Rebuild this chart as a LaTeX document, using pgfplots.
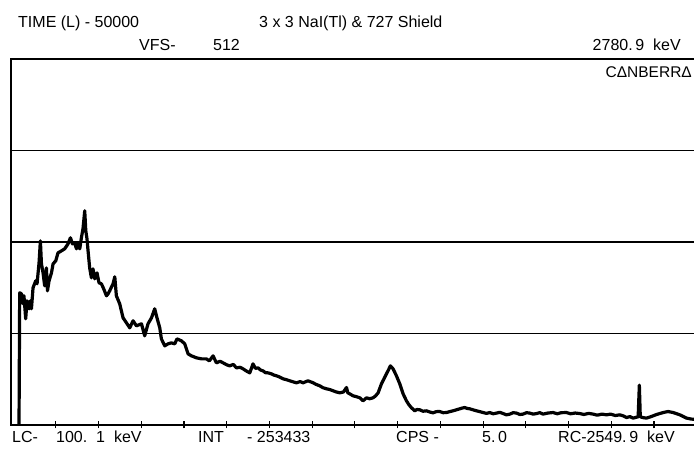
\documentclass[border=0pt]{standalone}
\usepackage{pgfplots}
\pgfplotsset{compat=1.18}
\usepackage{pgfplotstable}
\usepackage{fontspec}
\setmainfont{Liberation Sans}
\pgfplotstableread{
ch cnt
4.5 0
5.0 184.7
6.3 183.3
7.5 169.3
8.2 180.5
9.5 148.3
10.5 173.5
12.0 162.3
13.0 173.5
13.8 162.3
15.0 191.7
17.0 201.5
18.0 197.3
19.5 226.6
20.5 257.4
21.3 225.2
22.5 212.6
23.7 194.5
25.0 219.6
25.8 187.5
27.0 201.5
28.8 212.6
30.0 225.2
32.0 229.4
33.7 240.6
36.3 243.4
38.7 246.2
41.2 253.2
43.0 261.6
44.5 253.2
46.2 254.6
47.5 246.2
48.7 253.2
50.0 246.2
51.2 261.6
52.4 274.2
53.7 299.4
54.5 271.4
55.4 260.2
56.2 243.4
57.4 219.6
58.7 205.7
59.9 218.2
61.2 204.3
62.9 212.6
64.4 198.7
66.2 197.3
67.9 190.3
70.0 180.5
71.2 183.3
72.4 187.5
74.9 197.3
76.2 207.1
77.4 180.5
79.9 169.3
82.4 149.7
84.9 142.7
87.4 135.7
89.9 145.5
92.4 138.5
96.2 141.3
98.6 124.5
101.1 141.3
103.7 149.7
106.1 162.3
107.8 149.7
109.9 135.7
111.1 120.3
113.6 110.5
116.1 113.3
118.6 114.7
121.1 113.3
122.8 120.3
126.1 117.5
128.6 113.3
131.1 99.3
133.6 96.5
137.4 93.7
141.1 92.3
144.8 92.3
147.0 89.5
149.8 96.5
152.3 86.7
155.0 89.0
157.3 86.7
160.0 84.0
162.3 82.5
165.0 84.5
167.3 79.7
170.0 80.5
172.3 78.3
175.0 75.0
177.3 72.7
179.7 85.3
181.5 79.0
183.5 79.7
185.5 76.5
187.2 75.5
189.0 73.0
191.0 72.7
193.5 71.3
195.5 69.5
197.3 68.6
199.5 67.0
202.2 64.4
205.0 63.0
207.2 61.6
210.0 60.0
212.2 58.8
215.0 60.5
217.2 58.8
220.9 61.6
224.7 58.8
227.0 56.5
229.7 54.6
232.0 52.0
234.7 50.4
237.0 49.5
239.7 47.6
242.0 46.0
244.7 44.8
247.5 46.0
249.7 52.2
250.7 44.8
252.5 43.0
254.6 40.6
257.0 39.5
259.7 37.8
262.1 33.6
264.7 37.8
267.0 36.5
269.6 37.8
271.5 40.5
273.4 44.8
275.9 57.4
277.7 64.0
279.6 71.3
281.2 77.0
282.6 82.5
284.6 78.3
287.1 68.6
289.6 57.4
292.1 43.4
294.6 33.6
296.5 28.0
298.4 23.8
300.8 19.6
302.5 21.5
304.6 21.0
307.0 19.0
309.6 19.6
312.0 18.0
314.5 16.8
317.0 18.5
319.6 18.6
322.0 17.0
324.6 17.2
327.0 18.5
329.5 19.6
332.0 21.0
334.5 22.4
336.5 23.5
338.3 24.2
340.0 23.0
342.0 22.4
344.5 21.0
347.0 19.6
349.5 18.5
352.0 17.2
354.5 16.0
357.0 17.2
359.5 15.5
362.0 16.4
364.5 17.5
367.0 15.8
369.5 14.0
372.0 15.0
374.5 17.0
377.0 16.4
379.5 14.5
381.9 15.0
384.5 17.0
387.0 16.4
389.5 15.0
392.0 15.8
394.5 17.0
396.9 15.0
400.5 16.5
404.4 17.2
407.5 15.5
410.5 17.0
414.4 17.2
417.5 15.5
421.0 16.5
424.4 15.8
427.5 14.5
431.0 16.0
434.4 15.0
437.5 13.5
441.0 15.0
444.4 14.0
447.5 15.0
451.0 13.0
454.4 14.0
457.0 12.5
459.4 10.2
462.0 11.5
464.3 9.4
466.5 10.5
468.1 11.2
469.0 55.5
469.7 11.2
472.0 10.0
474.4 9.4
477.0 11.0
479.3 12.6
482.0 14.5
484.3 15.8
487.5 17.5
490.5 18.6
494.3 17.2
497.0 15.5
499.3 14.0
502.0 11.5
504.3 9.4
508.1 8.0
512.0 7.7
}\spectrum
\begin{document}
\begin{tikzpicture}[x=1pt,y=1pt]
\begin{axis}[
  at={(9.74,38)}, anchor=origin,
  scale only axis, width=685.5pt, height=366pt,
  xmin=-1.3, xmax=512, ymin=0, ymax=512,
  xtick={32,64,...,480}, xticklabels={},
  xtick pos=bottom, tick align=center,
  major tick length=7pt,
  every tick/.style={black, line width=1.1pt},
  ytick={128,256,384}, yticklabels={},
  ytick style={draw=none},
  ymajorgrids, grid style={black, line width=1.6pt},
  axis line style={black, line width=1.8pt},
  clip=true,
]
\addplot[black, line width=3.2pt, line join=round, line cap=round] table[x=ch, y=cnt] {\spectrum};
\end{axis}
\begin{scope}[every node/.style={inner sep=0pt, font=\fontsize{16}{19}\selectfont}]
\node[anchor=base west] at (18,424.5) {TIME (L) - 50000};
\node[anchor=base west] at (259,424.5) {3 x 3 NaI(Tl) \& 727 Shield};
\node[anchor=base west] at (139,401) {VFS-};
\node[anchor=base west] at (213,401) {512};
\node[anchor=base east] at (681,401) {2780.\,9\ \ keV};
\node[anchor=base east, font=\fontsize{15.5}{18}\selectfont] at (692,374.5) {CΔNBERRΔ};
\node[anchor=base west] at (12,9) {LC-};
\node[anchor=base west] at (56,9) {100.\ \ 1\ \ keV};
\node[anchor=base west] at (198,9) {INT};
\node[anchor=base west] at (247,9) {- 253433};
\node[anchor=base west] at (396,9) {CPS -};
\node[anchor=base west] at (482,9) {5.\,0};
\node[anchor=base west] at (558,9) {RC-2549.\,9\ \ keV};
\end{scope}
\pgfresetboundingbox
\path[use as bounding box] (0,0) rectangle (694,452);
\end{tikzpicture}
\end{document}
